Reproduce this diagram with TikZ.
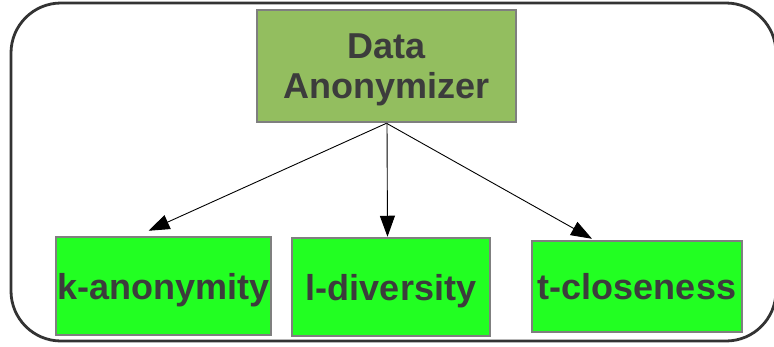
\documentclass[tikz,border=0pt]{standalone}
\usepackage{fontspec}
\setmainfont{Liberation Sans}
\usetikzlibrary{arrows.meta}

\definecolor{anonfill}{HTML}{93BE5F}
\definecolor{metfill}{HTML}{22FF22}
\definecolor{boxline}{HTML}{7F7F7F}
\definecolor{txtgray}{HTML}{3C3C3C}

\begin{document}
\begin{tikzpicture}[
        x=1pt, y=-1pt,
        anon/.style={rectangle, draw=boxline, line width=2.5pt, fill=anonfill, minimum width=259pt, minimum height=112pt, inner sep=1pt, align=center, text depth=0pt, text=txtgray, font=\fontsize{36}{40}\selectfont\bfseries},
        met/.style={rectangle, draw=boxline, line width=2.5pt, fill=metfill, inner sep=1pt, text height=26pt, text depth=0pt, text=txtgray, font=\fontsize{36}{40}\selectfont\bfseries},
        link/.style={-{Triangle[length=21pt,width=15pt]}, line width=0.9pt, black},
        ]

      \useasboundingbox (0,0) rectangle (774,346);

      % outer frame
      \draw[line width=2.8pt, draw=black!80, rounded corners=50pt] (11,3) rectangle (776,341);

      \node[anon] (da) at (386.5,66) {Data\\Anonymizer};

      \node[met, minimum width=215pt, minimum height=98pt] (ka) at (163.5,286) {k-anonymity};
      \node[met, minimum width=198pt, minimum height=98pt] (ld) at (391,287) {l-diversity};
      \node[met, minimum width=210pt, minimum height=91pt] (tc) at (637,286.5) {t-closeness};

      \draw[link] (da.south) -- ([xshift=-15pt,yshift=5pt]ka.north);
      \draw[link] ([xshift=0.5pt]da.south) -- ([xshift=-3.5pt]ld.north);
      \draw[link] (da.south) -- ([xshift=-45pt,yshift=1pt]tc.north);
    \end{tikzpicture}
\end{document}
